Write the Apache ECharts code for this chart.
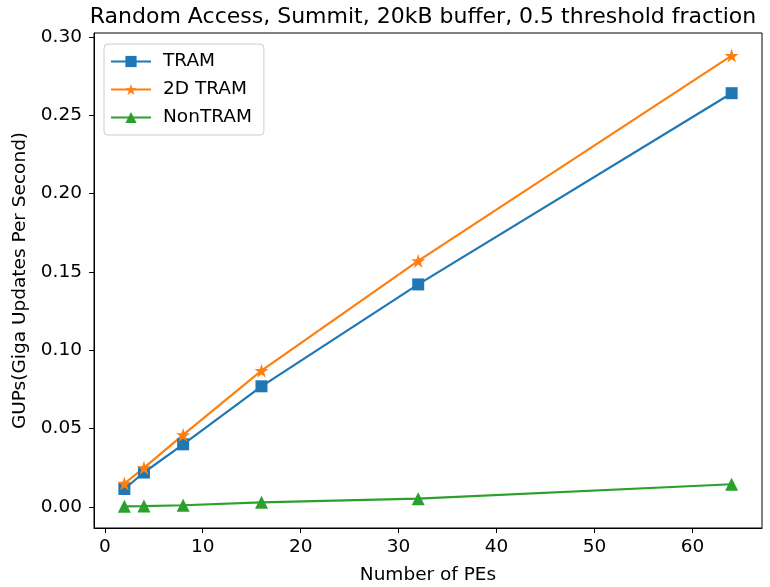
<!DOCTYPE html>
<html>
<head>
<meta charset="utf-8">
<script src="https://cdn.jsdelivr.net/npm/echarts@6/dist/echarts.min.js"></script>
<style>
  html, body { margin: 0; padding: 0; background: #fff; }
  #chart { width: 770px; height: 587px; }
</style>
</head>
<body>
<div id="chart"></div>
<script>
// Number of processing elements on the x axis
const pes = [2, 4, 8, 16, 32, 64];
// GUPs measured for each scheme
const tram = [0.0115, 0.022, 0.040, 0.077, 0.142, 0.264];
const tram2d = [0.015, 0.025, 0.046, 0.087, 0.157, 0.288];
const nontram = [0.0004, 0.0006, 0.0011, 0.003, 0.0053, 0.0145];
// Tick positions
const xTicks = [0, 10, 20, 30, 40, 50, 60];
const yTicks = [0, 0.05, 0.10, 0.15, 0.20, 0.25, 0.30];

const FONT = 'DejaVu Sans';
const starPath = 'path://M50,0 L61.2,34.5 L97.6,34.5 L68.2,55.9 L79.4,90.5 L50,69.1 L20.6,90.5 L31.8,55.9 L2.4,34.5 L38.8,34.5 Z';

const pairs = arr => pes.map((p, i) => [p, arr[i]]);

const chart = echarts.init(document.getElementById('chart'), null, { renderer: 'canvas' });
chart.setOption({
  animation: false,
  backgroundColor: '#fff',
  textStyle: { fontFamily: FONT },
  title: {
    text: 'Random Access, Summit, 20kB buffer, 0.5 threshold fraction',
    left: 418, top: 1, textAlign: 'center',
    textStyle: { fontFamily: FONT, fontSize: 22, fontWeight: 'normal', color: '#000' }
  },
  grid: {
    left: 94, right: 8, top: 33, bottom: 59,
    containLabel: false, outerBoundsMode: 'none',
    show: true, borderColor: '#000', borderWidth: 1, backgroundColor: 'transparent'
  },
  legend: {
    orient: 'vertical', left: 104, top: 44,
    padding: [8, 12, 8, 6],
    itemGap: 9, itemWidth: 40, itemHeight: 14,
    backgroundColor: '#fff', borderColor: '#cccccc', borderWidth: 1, borderRadius: 4,
    textStyle: { fontFamily: FONT, fontSize: 18.5, color: '#000', padding: [0, 0, 0, 7] },
    data: ['TRAM', '2D TRAM', 'NonTRAM']
  },
  xAxis: {
    type: 'value', min: -1.1, max: 67.1,
    name: 'Number of PEs', nameLocation: 'middle', nameGap: 38,
    nameTextStyle: { fontFamily: FONT, fontSize: 18.5, color: '#000' },
    axisLine: { onZero: false, lineStyle: { color: '#000', width: 1 } },
    axisTick: { show: true, length: 5, customValues: xTicks, lineStyle: { color: '#000' } },
    axisLabel: { customValues: xTicks, fontFamily: FONT, fontSize: 18.5, color: '#000', margin: 10 },
    splitLine: { show: false }
  },
  yAxis: {
    type: 'value', min: -0.0134, max: 0.3024,
    name: 'GUPs(Giga Updates Per Second)', nameLocation: 'middle', nameGap: 60,
    nameTextStyle: { fontFamily: FONT, fontSize: 18.5, color: '#000' },
    axisLine: { show: true, onZero: false, lineStyle: { color: '#000', width: 1 } },
    axisTick: { show: true, length: 5, customValues: yTicks, lineStyle: { color: '#000' } },
    axisLabel: {
      customValues: yTicks, fontFamily: FONT, fontSize: 18.5, color: '#000', margin: 12,
      formatter: v => v.toFixed(2)
    },
    splitLine: { show: false }
  },
  series: [
    {
      name: 'TRAM', type: 'line', data: pairs(tram),
      symbol: 'rect', symbolSize: 12,
      lineStyle: { color: '#1f77b4', width: 2.2 },
      itemStyle: { color: '#1f77b4' }
    },
    {
      name: '2D TRAM', type: 'line', data: pairs(tram2d),
      symbol: starPath, symbolSize: 14,
      lineStyle: { color: '#ff7f0e', width: 2.2 },
      itemStyle: { color: '#ff7f0e' }
    },
    {
      name: 'NonTRAM', type: 'line', data: pairs(nontram),
      symbol: 'triangle', symbolSize: 13,
      lineStyle: { color: '#2ca02c', width: 2.2 },
      itemStyle: { color: '#2ca02c' }
    }
  ]
});
</script>
</body>
</html>
